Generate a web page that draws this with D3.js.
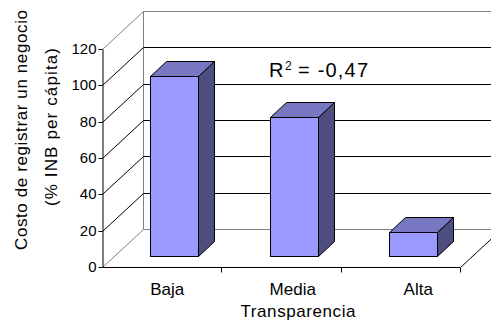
<!DOCTYPE html>
<html>
<head>
<meta charset="utf-8">
<script src="https://cdn.jsdelivr.net/npm/d3@7"></script>
<style>
  body { margin: 0; background: #fff; }
  svg { display: block; font-family: "Liberation Sans", Arial, sans-serif; }
</style>
</head>
<body>
<svg id="chart" width="491" height="324"></svg>
<script>
// data
const categories = ['Baja', 'Media', 'Alta'];
const values = [99, 76, 13];
const yTicks = [0, 20, 40, 60, 80, 100, 120];
const r2Label = '-0,47';

const svg = d3.select('#chart');

// front plane of the 3D box
const x = d3.scaleBand().domain(categories).range([102, 460]);
const y = d3.scaleLinear().domain([0, 120]).range([267, 49]);
// labels sit a little off the front bands in the original
const xl = d3.scaleBand().domain(categories).range([104.5, 481]);

// depth of the box and of the bars
const DX = 41, DY = -38;
const BDX = 16, BDY = -15;
const offX = (DX - BDX) / 2, offY = (DY - BDY) / 2;
const barW = x.bandwidth() / 2.5;

const x0 = x.range()[0], x1 = x.range()[1];
const c = (v) => Math.round(v) + 0.5;

// back wall
svg.append('rect')
  .attr('x', c(x0 + DX)).attr('y', c(y(120) + DY))
  .attr('width', 600).attr('height', c(y(0)) - c(y(120)))
  .attr('fill', '#fff').attr('stroke', '#808080');

// gridlines on back wall + left wall
const grid = svg.append('g');
yTicks.forEach((t) => {
  const edge = t === 0 || t === 120;
  if (!edge) {
    grid.append('line')
      .attr('x1', c(x0 + DX)).attr('x2', 491)
      .attr('y1', c(y(t) + DY)).attr('y2', c(y(t) + DY))
      .attr('stroke', '#000');
  }
  grid.append('line')
    .attr('x1', c(x0)).attr('y1', c(y(t)))
    .attr('x2', c(x0 + DX)).attr('y2', c(y(t) + DY))
    .attr('stroke', edge ? '#808080' : '#000');
});

// floor
svg.append('line')
  .attr('x1', c(x1)).attr('y1', c(y(0)))
  .attr('x2', c(x1 + DX)).attr('y2', c(y(0) + DY))
  .attr('stroke', '#000');

// value axis
const yAxis = svg.append('g')
  .attr('transform', `translate(${c(x0)},0)`)
  .call(d3.axisLeft(y).tickValues(yTicks).tickSize(4).tickSizeOuter(0).tickPadding(2));
yAxis.select('.domain').attr('stroke', '#000');
yAxis.selectAll('.tick line').attr('stroke', '#000');
yAxis.selectAll('text')
  .attr('font-size', 15)
  .attr('fill', '#000')
  .attr('font-family', '"Liberation Sans", Arial, sans-serif');
yAxis.selectAll('.tick').attr('transform', (d) => `translate(0,${c(y(d))})`);

// category axis line and boundary ticks
const bounds = categories.map((d) => x(d)).concat([x1]);
svg.append('line')
  .attr('x1', c(x0)).attr('x2', c(x1))
  .attr('y1', c(y(0))).attr('y2', c(y(0)))
  .attr('stroke', '#000');
svg.append('g').selectAll('line')
  .data(bounds.slice(1))
  .enter().append('line')
  .attr('x1', (d) => c(d)).attr('x2', (d) => c(d))
  .attr('y1', c(y(0))).attr('y2', c(y(0)) + 5)
  .attr('stroke', '#000');

// bars
const bars = svg.append('g')
  .selectAll('g')
  .data(categories.map((k, i) => ({ k, v: values[i] })))
  .enter().append('g');

const fx = (d) => Math.round(x(d.k) + offX + (x.bandwidth() - barW) / 2) + 0.5;
const fw = Math.round(barW);
const barTop = (d) => Math.round(y(d.v) + offY) + 0.5;
const barBot = Math.round(y(0) + offY) + 0.5;

bars.append('path')
  .attr('d', (d) => {
    const a = fx(d) + fw, t = barTop(d);
    return `M${a},${t}L${a + BDX},${t + BDY}L${a + BDX},${barBot + BDY}L${a},${barBot}Z`;
  })
  .attr('fill', '#4e4e80').attr('stroke', '#000');
bars.append('path')
  .attr('d', (d) => {
    const a = fx(d), t = barTop(d);
    return `M${a},${t}L${a + fw},${t}L${a + fw + BDX},${t + BDY}L${a + BDX},${t + BDY}Z`;
  })
  .attr('fill', '#7777c2').attr('stroke', '#000');
bars.append('rect')
  .attr('x', fx).attr('y', barTop)
  .attr('width', fw).attr('height', (d) => barBot - barTop(d))
  .attr('fill', '#9999ff').attr('stroke', '#000');

// category labels
svg.append('g').selectAll('text')
  .data(categories)
  .enter().append('text')
  .attr('x', (d) => xl(d) + xl.bandwidth() / 2)
  .attr('y', 295)
  .attr('text-anchor', 'middle')
  .attr('font-size', 17)
  .text((d) => d);

// axis titles
svg.append('text')
  .attr('x', 298).attr('y', 317)
  .attr('text-anchor', 'middle')
  .attr('font-size', 17)
  .attr('textLength', 115)
  .text('Transparencia');

svg.append('text')
  .attr('transform', 'translate(27,130) rotate(-90)')
  .attr('text-anchor', 'middle')
  .attr('font-size', 17)
  .attr('textLength', 240)
  .text('Costo de registrar un negocio');
svg.append('text')
  .attr('transform', 'translate(57,127) rotate(-90)')
  .attr('text-anchor', 'middle')
  .attr('font-size', 17)
  .attr('textLength', 158)
  .text('(% INB per cápita)');

// R² note
svg.append('text').attr('x', 269).attr('y', 77).attr('font-size', 20).text('R');
svg.append('text').attr('x', 285).attr('y', 70).attr('font-size', 12).text('2');
svg.append('text').attr('x', 298).attr('y', 77).attr('font-size', 20)
  .attr('textLength', 70).text('= ' + r2Label);
</script>
</body>
</html>
